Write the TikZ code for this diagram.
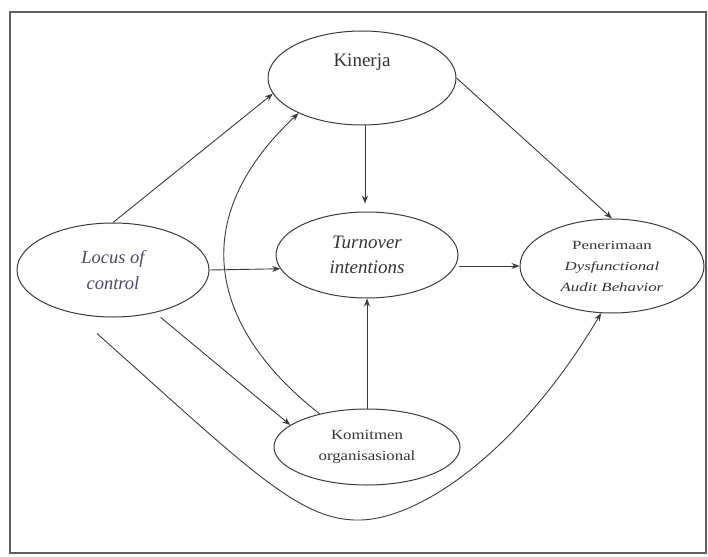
\documentclass[tikz,border=0pt]{standalone}
\usepackage{fontspec}
\setmainfont{Liberation Serif}
\newfontfamily\widefont[FakeStretch=1.35]{Liberation Serif}
\newfontfamily\medfont[FakeStretch=1.2]{Liberation Serif}
\usetikzlibrary{shapes.geometric,arrows.meta}
\definecolor{linec}{HTML}{3A3A3A}
\definecolor{textc}{HTML}{333333}
\definecolor{locc}{HTML}{4A4A62}
\definecolor{framec}{HTML}{5E5E5E}
\begin{document}
\begin{tikzpicture}[x=1pt,y=-1pt,
  var/.style={ellipse,draw=linec,line width=1pt,inner sep=0pt,align=center,text=textc},
  lbl/.style={inner sep=0pt,align=center,text=textc},
  arr/.style={draw=linec,line width=0.9pt,-{Stealth[length=8pt,width=6pt]}},
  ]
\useasboundingbox (0,0) rectangle (708,556);
\draw[framec,line width=2.8pt] (10,12) rectangle (706,553);

\node[var,minimum width=188pt,minimum height=94pt] (kin) at (362,78) {};
\node[lbl,font=\fontsize{19}{22}\selectfont] (kint) at (362,62) {Kinerja};

\node[var,minimum width=192pt,minimum height=94pt,text=locc,
  font=\fontsize{18.5}{26}\selectfont\itshape] (loc) at (113,270) {Locus of\\control};

\node[var,minimum width=182pt,minimum height=86pt,
  font=\fontsize{19}{25}\selectfont\itshape] (tur) at (367,255) {Turnover\\intentions};

\node[var,minimum width=184pt,minimum height=94pt,
  font=\widefont\fontsize{12.5}{21}\selectfont] (pen) at (612,266)
  {Penerimaan\\\textit{Dysfunctional}\\\textit{Audit Behavior}};

\node[var,minimum width=186pt,minimum height=76pt,
  font=\medfont\fontsize{14}{21}\selectfont] (kom) at (367,447) {Komitmen\\organisasional};

% straight arrows
\draw[arr] (loc.north) -- (kin.190);
\draw[arr] ([xshift=3pt]kin.south) -- ([xshift=-2pt,yshift=8pt]tur.north);
\draw[arr] (kin.east) -- (pen.north);
\draw[arr] (loc.east) -- (tur.189);
\draw[arr] (tur.east |- pen.west) -- (pen.west);
\draw[arr] ([yshift=-6pt]loc.-41) -- (kom.164);
\draw[arr] (kom.north) -- (tur.south);

% curved arrows
\draw[arr] (kom.145) .. controls (220,336) and (177,227) .. (kin.209);
\coordinate (cstart) at ([xshift=-16pt,yshift=-16pt]loc.south);
\draw[arr] (cstart) .. controls (250,470) and (300,522) .. (361,520)
  .. controls (422,518) and (520,450) .. (pen.-103);
\end{tikzpicture}
\end{document}
